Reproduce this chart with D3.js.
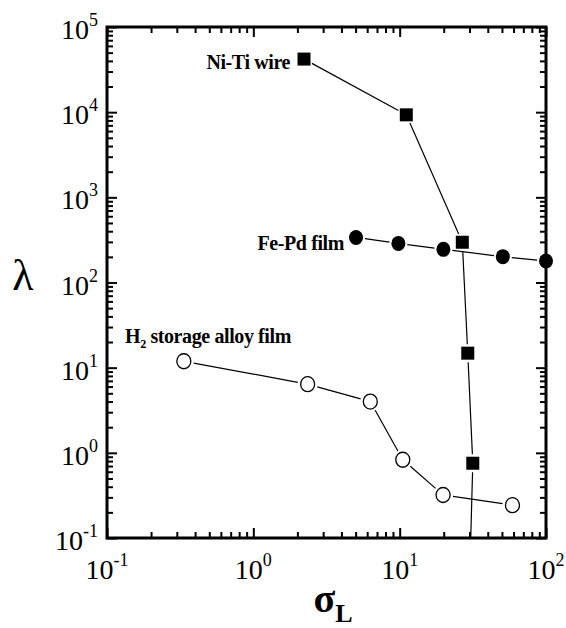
<!DOCTYPE html>
<html>
<head>
<meta charset="utf-8">
<script src="https://cdn.jsdelivr.net/npm/d3@7"></script>
<style>
  body { margin: 0; background: #fff; }
</style>
</head>
<body>
<svg id="chart" width="566" height="628" font-family="'Liberation Serif', 'DejaVu Serif', serif"></svg>
<script>
// values (log-log axes)
const sigmaNiTi = [2.22, 11.1, 26.8, 29.2, 31.6];
const lambdaNiTi = [42000, 9300, 297, 14.8, 0.755];
const niTiTail = [29.5, 0.01]; // line keeps going below the axis

const sigmaFePd = [5.03, 9.8, 19.9, 50.7, 100];
const lambdaFePd = [338, 288, 245, 201, 179];

const sigmaH2 = [0.335, 2.35, 6.3, 10.5, 19.8, 59];
const lambdaH2 = [11.9, 6.4, 4.0, 0.83, 0.32, 0.243];

const xExponents = [-1, 0, 1, 2];
const yExponents = [-1, 0, 1, 2, 3, 4, 5];

const margin = { top: 27, left: 107, right: 20, bottom: 90 };
const W = 566, H = 628;
const innerW = W - margin.left - margin.right;
const innerH = H - margin.top - margin.bottom;
const serif = "'Liberation Serif', 'DejaVu Serif', serif";

const svg = d3.select("#chart");
const g = svg.append("g").attr("transform", `translate(${margin.left},${margin.top})`);

const x = d3.scaleLog().domain([0.1, 100]).range([0, innerW]);
const y = d3.scaleLog().domain([0.1, 1e5]).range([innerH, 0]);

const isMajor = (v) => Math.abs(Math.log10(v) - Math.round(Math.log10(v))) < 1e-9;
const xMinor = x.ticks().filter((v) => !isMajor(v));
const yMinor = y.ticks().filter((v) => !isMajor(v));
const xMajor = xExponents.map((e) => Math.pow(10, e));
const yMajor = yExponents.map((e) => Math.pow(10, e));

// inward ticks on all four sides
function tickAxis(axisFn, scale, values, size, transform) {
    const a = g.append("g")
        .attr("transform", transform)
        .call(axisFn(scale).tickValues(values).tickSize(-size).tickFormat(""));
    a.select(".domain").remove();
    a.selectAll(".tick line").attr("stroke", "#000").attr("stroke-width", 2);
}
tickAxis(d3.axisBottom, x, xMinor, 6, `translate(0,${innerH})`);
tickAxis(d3.axisBottom, x, xMajor, 10, `translate(0,${innerH})`);
tickAxis(d3.axisTop, x, xMinor, 6, "translate(0,0)");
tickAxis(d3.axisTop, x, xMajor, 10, "translate(0,0)");
tickAxis(d3.axisLeft, y, yMinor, 6, "translate(0,0)");
tickAxis(d3.axisLeft, y, yMajor, 10, "translate(0,0)");
tickAxis(d3.axisRight, y, yMinor, 6, `translate(${innerW},0)`);
tickAxis(d3.axisRight, y, yMajor, 10, `translate(${innerW},0)`);

// frame
g.append("rect")
    .attr("width", innerW)
    .attr("height", innerH)
    .attr("fill", "none")
    .attr("stroke", "#000")
    .attr("stroke-width", 3);

// tick labels 10^n
function powLabel(sel, e) {
    sel.append("tspan").text("10");
    sel.append("tspan")
        .attr("dy", -13)
        .style("font-size", "18px")
        .text(e);
}
xExponents.forEach((e) => {
    const t = g.append("text")
        .attr("x", x(Math.pow(10, e)))
        .attr("y", innerH + 41)
        .attr("text-anchor", "middle")
        .style("font-family", serif)
        .style("font-size", "28px");
    powLabel(t, e);
});
yExponents.forEach((e) => {
    const t = g.append("text")
        .attr("x", -9)
        .attr("y", y(Math.pow(10, e)) + 12)
        .attr("text-anchor", "end")
        .style("font-family", serif)
        .style("font-size", "28px");
    powLabel(t, e);
});

// axis titles
svg.append("text")
    .attr("x", 23)
    .attr("y", 290)
    .attr("text-anchor", "middle")
    .style("font-family", serif)
    .style("font-size", "44px")
    .text("λ");

const xt = svg.append("text")
    .attr("x", 333)
    .attr("y", 612)
    .attr("text-anchor", "middle")
    .style("font-family", serif)
    .style("font-size", "40px")
    .style("font-weight", "bold");
xt.append("tspan").text("σ");
xt.append("tspan").attr("dy", 10).style("font-size", "26px").text("L");

// plot clip
svg.append("defs").append("clipPath").attr("id", "plotClip")
    .append("rect").attr("width", innerW).attr("height", innerH);

// lines drawn as separate segments with small gaps at markers
function drawSegments(xs, ys, gap, tail) {
    const pts = xs.map((v, i) => [x(v), y(ys[i])]);
    const segs = [];
    for (let i = 0; i < pts.length - 1; i++) segs.push([pts[i], pts[i + 1], gap, gap]);
    if (tail) segs.push([pts[pts.length - 1], [x(tail[0]), y(tail[1])], gap, 0]);
    g.append("g").attr("clip-path", "url(#plotClip)")
        .selectAll("line")
        .data(segs)
        .join("line")
        .each(function (d) {
            const [a, b, ga, gb] = d;
            const dx = b[0] - a[0], dy = b[1] - a[1];
            const len = Math.hypot(dx, dy);
            const ux = dx / len, uy = dy / len;
            d3.select(this)
                .attr("x1", a[0] + ux * ga)
                .attr("y1", a[1] + uy * ga)
                .attr("x2", b[0] - ux * gb)
                .attr("y2", b[1] - uy * gb);
        })
        .attr("stroke", "#000")
        .attr("stroke-width", 1.2);
}
drawSegments(sigmaNiTi, lambdaNiTi, 9, niTiTail);
drawSegments(sigmaFePd, lambdaFePd, 9);
drawSegments(sigmaH2, lambdaH2, 10);

// markers
const side = 13;
g.append("g").selectAll("rect")
    .data(sigmaNiTi.map((v, i) => [v, lambdaNiTi[i]]))
    .join("rect")
    .attr("x", (d) => x(d[0]) - side / 2)
    .attr("y", (d) => y(d[1]) - side / 2)
    .attr("width", side)
    .attr("height", side)
    .attr("fill", "#000");

g.append("g").selectAll("ellipse")
    .data(sigmaFePd.map((v, i) => [v, lambdaFePd[i]]))
    .join("ellipse")
    .attr("cx", (d) => x(d[0]))
    .attr("cy", (d) => y(d[1]))
    .attr("rx", 7)
    .attr("ry", 7.5)
    .attr("fill", "#000");

g.append("g").selectAll("ellipse")
    .data(sigmaH2.map((v, i) => [v, lambdaH2[i]]))
    .join("ellipse")
    .attr("cx", (d) => x(d[0]))
    .attr("cy", (d) => y(d[1]))
    .attr("rx", 7)
    .attr("ry", 7.5)
    .attr("fill", "#fff")
    .attr("stroke", "#000")
    .attr("stroke-width", 1.3);

// series labels
function seriesLabel(px, py, anchor) {
    return svg.append("text")
        .attr("x", px).attr("y", py)
        .attr("text-anchor", anchor)
        .style("font-family", serif)
        .style("font-size", "20px")
        .style("font-weight", "bold")
        .style("letter-spacing", "-0.4px");
}
seriesLabel(290, 69, "end").text("Ni-Ti wire");
seriesLabel(344, 250, "end").text("Fe-Pd film");

const h2 = seriesLabel(125, 343, "start");
h2.append("tspan").text("H");
h2.append("tspan").attr("dy", 5).style("font-size", "12px").text("2");
h2.append("tspan").attr("dy", -5).text(" storage alloy film");
</script>
</body>
</html>
